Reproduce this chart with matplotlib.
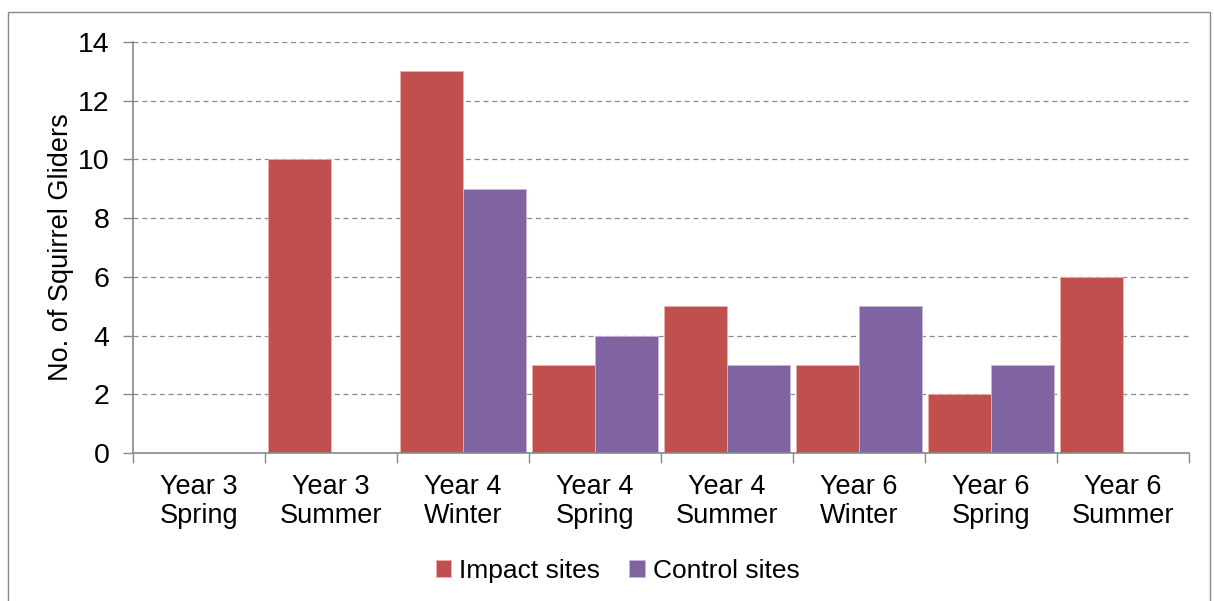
import numpy as np
import matplotlib.pyplot as plt
from matplotlib.patches import Rectangle

plt.rcParams['font.family'] = ['Liberation Sans', 'DejaVu Sans']

# datos
categorias = ['Year 3\nSpring', 'Year 3\nSummer', 'Year 4\nWinter', 'Year 4\nSpring',
              'Year 4\nSummer', 'Year 6\nWinter', 'Year 6\nSpring', 'Year 6\nSummer']
impacto = [0, 10, 13, 3, 5, 3, 2, 6]
control = [0, 0, 9, 4, 3, 5, 3, 0]

rojo = '#C0504D'
morado = '#8064A2'
gris = '#898989'

fig = plt.figure(figsize=(12.14, 6.01), dpi=100)
# borde exterior del grafico
fig.patches.append(Rectangle((8/1214, -0.01), 1202/1214, 1 - 12/601 + 0.01,
                             transform=fig.transFigure, fill=False,
                             edgecolor=gris, linewidth=1))
ax = fig.add_axes([133/1214, 1 - 453/601, (1189 - 133)/1214, (453 - 42)/601])

x = np.arange(len(categorias))
w = 0.475
ax.bar(x - w/2, impacto, w, color=rojo, edgecolor='#E8B0AE', linewidth=0.6,
       label='Impact sites', zorder=3)
ax.bar(x + w/2, control, w, color=morado, edgecolor='#C5B5D8', linewidth=0.6,
       label='Control sites', zorder=3)

ax.set_xlim(-0.5, len(categorias) - 0.5)
ax.set_ylim(0, 14)
ax.set_yticks(range(0, 15, 2))
ax.set_xticks(x)
ax.set_xticklabels(categorias, fontsize=19.5, linespacing=1.15)
ax.set_xticks(np.arange(-0.5, len(categorias)), minor=True)
ax.tick_params(axis='x', which='major', length=0, pad=15)
ax.tick_params(axis='x', which='minor', length=7, color=gris, width=1)
ax.tick_params(axis='y', labelsize=20.5, length=7, color=gris, width=1, pad=10)

ax.yaxis.grid(True, linestyle=(0, (4, 3)), color=gris, linewidth=0.9, zorder=0)
for s in ['top', 'right']:
    ax.spines[s].set_visible(False)
for s in ['left', 'bottom']:
    ax.spines[s].set_color(gris)
    ax.spines[s].set_linewidth(1.2)
ax.spines['bottom'].set_zorder(4)

ax.set_ylabel('No. of Squirrel Gliders', fontsize=19.5, labelpad=3)

ax.legend(loc='upper center', bbox_to_anchor=(0.459, -0.2), ncol=2, frameon=False,
          fontsize=19, handlelength=0.6, handleheight=0.6, handletextpad=0.3,
          columnspacing=1.1)

fig.savefig('out.png', dpi=100)
